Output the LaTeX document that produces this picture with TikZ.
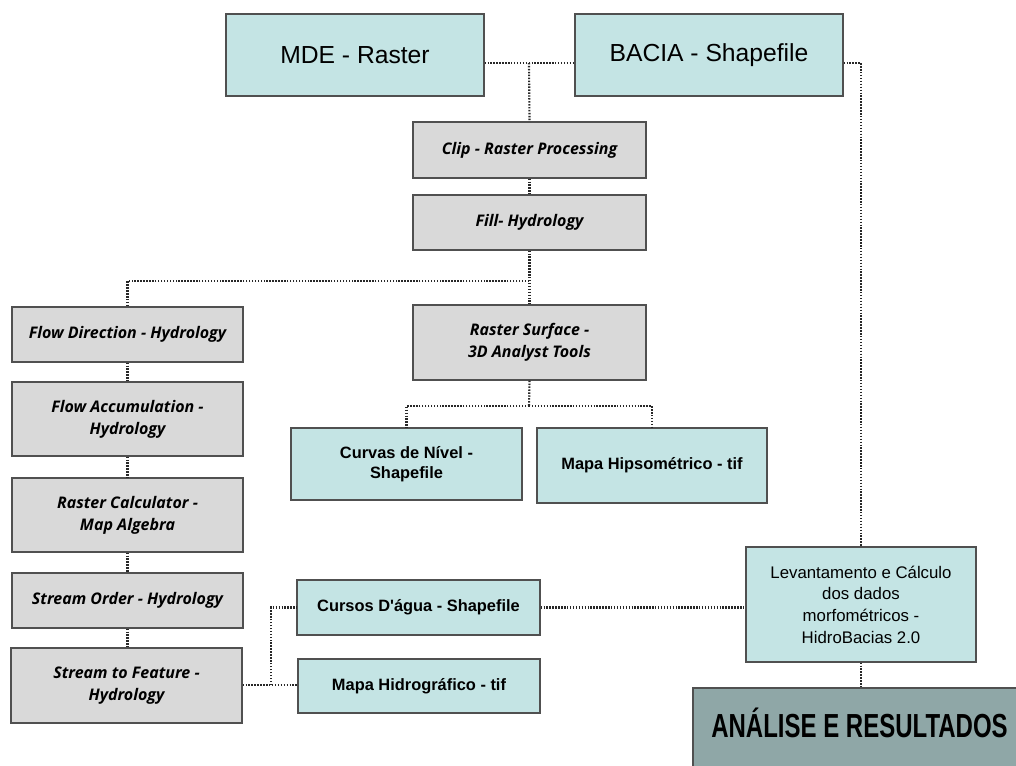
\documentclass[tikz,border=0pt]{standalone}
\usepackage{fontspec}
\setmainfont{Liberation Sans}[Ligatures=TeXOff]
\newfontfamily\grayfont{Open Sans}
\definecolor{tealfill}{RGB}{196,228,228}
\definecolor{grayfill}{RGB}{217,217,217}
\definecolor{boxline}{RGB}{80,80,80}
\definecolor{linkgray}{RGB}{40,40,40}
\definecolor{endfill}{RGB}{143,167,167}
\begin{document}
\begin{tikzpicture}[x=0.75pt,y=-0.75pt,
  every node/.style={inner sep=0pt, align=center},
  tealbox/.style={draw=boxline, fill=tealfill, line width=0.9pt,
    font=\bfseries\fontsize{12.3}{15}\selectfont},
  topbox/.style={draw=boxline, fill=tealfill, line width=0.9pt,
    minimum height=61.5pt, font=\fontsize{18.5}{22}\selectfont},
  graybox/.style={draw=boxline, fill=grayfill, line width=0.9pt,
    minimum width=173.25pt, font=\grayfont\bfseries\itshape\fontsize{12}{16.5}\selectfont},
  link/.style={draw=linkgray, line width=1.6pt, dash pattern=on 1.1pt off 1.1pt}]
\clip (0,0) rectangle (1016,765);
\node [topbox, minimum width=193.5pt] (mde) at (355,55) {MDE - Raster};
\node [topbox, minimum width=201pt] (bacia) at (709,55) {BACIA - Shapefile};
\node [graybox, minimum width=174.75pt, minimum height=42pt] (clip) at (529.5,150) {Clip - Raster Processing};
\node [graybox, minimum width=174.75pt, minimum height=41.25pt] (fill) at (529.5,222.5) {Fill- Hydrology};
\node [graybox, minimum width=174.75pt, minimum height=56.25pt] (surf) at (529.5,342.5) {Raster Surface -\\3D Analyst Tools};
\node [tealbox, minimum width=173.25pt, minimum height=54pt] (curvas) at (406.5,464) {Curvas de Nível -\\Shapefile};
\node [tealbox, minimum width=172.5pt, minimum height=56.25pt] (hipso) at (652,465.5) {Mapa Hipsométrico - tif};
\node [graybox, minimum height=41.25pt] (flowdir) at (127.5,334.5) {Flow Direction - Hydrology};
\node [graybox, minimum height=55.5pt] (flowacc) at (127.5,419) {Flow Accumulation -\\Hydrology};
\node [graybox, minimum height=55.5pt] (rcalc) at (127.5,515) {Raster Calculator -\\Map Algebra};
\node [graybox, minimum height=41.25pt] (sorder) at (127.5,600.5) {Stream Order - Hydrology};
\node [graybox, minimum height=56.25pt] (sfeat) at (126.5,685.5) {Stream to Feature -\\Hydrology};
\node [tealbox, minimum width=182.25pt, minimum height=41.25pt] (cursos) at (418.5,607.5) {Cursos D'água - Shapefile};
\node [tealbox, minimum width=181.5pt, minimum height=40.5pt] (hidro) at (419,686) {Mapa Hidrográfico - tif};
\node [draw=boxline, fill=tealfill, line width=0.9pt, minimum width=172.5pt, minimum height=86.25pt,
  font=\fontsize{12.6}{16.2}\selectfont] (levant) at (861,604.5)
  {Levantamento e Cálculo\\dos dados\\morfométricos -\\HidroBacias 2.0};
\node [draw=boxline, fill=endfill, line width=0.9pt, minimum width=245.25pt, minimum height=61.5pt] (fim) at (856.5,729) {};
\node [font=\bfseries\fontsize{25}{30}\selectfont] (fimtxt) at (859.5,723) {\scalebox{0.72}[1]{ANÁLISE E RESULTADOS}};
\coordinate (topj) at (529,63);
\coordinate (fillj) at (529,281);
\coordinate (surfj) at (529,406);
\coordinate (featj) at (271,685);
\draw [link] (mde.east |- topj) -- (bacia.west |- topj);
\draw [link] (topj) -- (clip.north);
\draw [link] (bacia.east |- topj) -| (levant.north);
\draw [link] (clip.south) -- (fill.north);
\draw [link] (fill.south) -- (surf.north);
\draw [link] (fillj) -| (flowdir.north);
\draw [link] (flowdir.south) -- (flowacc.north);
\draw [link] (flowacc.south) -- (rcalc.north);
\draw [link] (rcalc.south) -- (sorder.north);
\draw [link] (sorder.south) -- (sorder.south |- sfeat.north);
\draw [link] (surf.south) -- (surfj);
\draw [link] (surfj) -| (curvas.north);
\draw [link] (surfj) -| (hipso.north);
\draw [link] (sfeat.east |- featj) -- (hidro.west |- featj);
\draw [link] (featj) |- (cursos.west);
\draw [link] (cursos.east) -- (cursos.east -| levant.west);
\draw [link] (levant.south) -- (levant.south |- fim.north);
\end{tikzpicture}
\end{document}
